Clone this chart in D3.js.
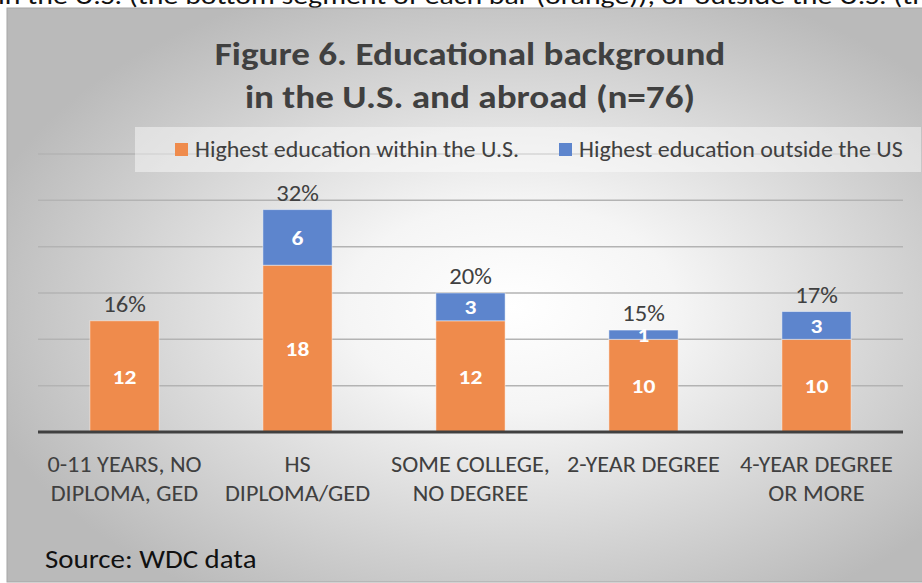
<!DOCTYPE html>
<html>
<head>
<meta charset="utf-8">
<script src="https://cdn.jsdelivr.net/npm/d3@7"></script>
<style>
  html, body { margin: 0; padding: 0; background: #ffffff; overflow: hidden; }
  svg { display: block; }
  text { font-family: Carlito, Calibri, Lato, "Open Sans", sans-serif; }
</style>
</head>
<body>
<svg id="chart" width="922" height="583"></svg>
<script>
// Educational background of respondents, by where the highest education was obtained
const categories = [
  ["0-11 YEARS, NO", "DIPLOMA, GED"],
  ["HS", "DIPLOMA/GED"],
  ["SOME COLLEGE,", "NO DEGREE"],
  ["2-YEAR DEGREE"],
  ["4-YEAR DEGREE", "OR MORE"]
];
const withinUS = [12, 18, 12, 10, 10];
const outsideUS = [0, 6, 3, 1, 3];
const totalLabels = ["16%", "32%", "20%", "15%", "17%"];
const seriesNames = ["Highest education within the U.S.", "Highest education outside the US"];
const yTicks = [0, 5, 10, 15, 20, 25, 30];

const colors = ["#ef8b4c", "#5d85cd"];
const ink = "#404040";

const svg = d3.select("#chart");
const W = 922, H = 583;

// Widen text runs a little so the substitute face keeps the original's line lengths
function widen(sel, f) {
  sel.each(function () {
    const len = this.getComputedTextLength();
    d3.select(this).attr("textLength", len * f).attr("lengthAdjust", "spacingAndGlyphs");
  });
  return sel;
}

// Chart area background: soft radial gradient
const defs = svg.append("defs");
const grad = defs.append("radialGradient")
  .attr("id", "bg").attr("cx", "55%").attr("cy", "52%").attr("r", "60%");
grad.append("stop").attr("offset", "0%").attr("stop-color", "#ffffff");
grad.append("stop").attr("offset", "30%").attr("stop-color", "#f5f5f5");
grad.append("stop").attr("offset", "100%").attr("stop-color", "#bababa");

// Running text of the surrounding document, clipped by the top edge
svg.append("text")
  .attr("x", -2).attr("y", 4)
  .attr("font-size", 24).attr("fill", "#111")
  .attr("textLength", 930).attr("lengthAdjust", "spacingAndGlyphs")
  .text("in the U.S. (the bottom segment of each bar (orange)), or outside the U.S. (th");

svg.append("rect")
  .attr("x", 7).attr("y", 8).attr("width", W - 7 + 2).attr("height", 574)
  .attr("fill", "url(#bg)")
  .attr("stroke", "#a6a6a6").attr("stroke-width", 1);

// Title
const title = svg.append("text")
  .attr("text-anchor", "middle").attr("font-weight", "bold")
  .attr("font-size", 32).attr("fill", ink);
title.append("tspan").attr("x", 470).attr("y", 65).text("Figure 6. Educational background");
title.append("tspan").attr("x", 470).attr("y", 108).text("in the U.S. and abroad (n=76)");
widen(title.selectAll("tspan"), 1.16);

// Scales
const x = d3.scaleBand()
  .domain(d3.range(categories.length))
  .range([38, 903])
  .paddingInner(0.6).paddingOuter(0.3);
const y = d3.scaleLinear().domain([0, 30]).range([432, 154]);

// Gridlines
svg.append("g")
  .selectAll("line")
  .data(yTicks.filter(t => t > 0))
  .join("line")
  .attr("x1", 38).attr("x2", 903)
  .attr("y1", d => y(d)).attr("y2", d => y(d))
  .attr("stroke", "#b3b3b3").attr("stroke-width", 1.5);

// Legend
const legend = svg.append("g");
legend.append("rect")
  .attr("x", 135).attr("y", 127).attr("width", 786).attr("height", 45)
  .attr("fill", "#ffffff").attr("fill-opacity", 0.45);
const legendX = [175, 559];
seriesNames.forEach((name, i) => {
  legend.append("rect")
    .attr("x", legendX[i]).attr("y", 143).attr("width", 13).attr("height", 13)
    .attr("fill", colors[i]);
  widen(legend.append("text")
    .attr("x", legendX[i] + 20).attr("y", 157)
    .attr("font-size", 22).attr("fill", ink)
    .text(name), 1.09);
});

// Stacked bars
const stacked = d3.stack().keys([0, 1])(
  withinUS.map((v, i) => ({ 0: v, 1: outsideUS[i] }))
);

const bars = svg.append("g");
stacked.forEach((layer, li) => {
  bars.append("g")
    .selectAll("rect")
    .data(layer.map((d, i) => ({ i, y0: d[0], y1: d[1] })).filter(d => d.y1 > d.y0))
    .join("rect")
    .attr("x", d => x(d.i))
    .attr("y", d => y(d.y1))
    .attr("width", x.bandwidth())
    .attr("height", d => y(d.y0) - y(d.y1))
    .attr("fill", colors[li])
    .attr("stroke", "#ffffff").attr("stroke-opacity", 0.45).attr("stroke-width", 1);
});

// Segment value labels
stacked.forEach((layer, li) => {
  widen(bars.append("g")
    .selectAll("text")
    .data(layer.map((d, i) => ({ i, y0: d[0], y1: d[1], v: d[1] - d[0] })).filter(d => d.v > 0))
    .join("text")
    .attr("x", d => x(d.i) + x.bandwidth() / 2)
    .attr("y", d => (y(d.y0) + y(d.y1)) / 2 + 7.5)
    .attr("text-anchor", "middle")
    .attr("font-size", 21).attr("font-weight", "bold")
    .attr("fill", "#ffffff")
    .text(d => d.v), 1.12);
});

// Total percentage labels
widen(svg.append("g")
  .selectAll("text")
  .data(totalLabels)
  .join("text")
  .attr("x", (d, i) => x(i) + x.bandwidth() / 2)
  .attr("y", (d, i) => y(withinUS[i] + outsideUS[i]) - 9)
  .attr("text-anchor", "middle")
  .attr("font-size", 22).attr("fill", ink)
  .text(d => d), 1.12);

// Category axis
svg.append("line")
  .attr("x1", 38).attr("x2", 903)
  .attr("y1", y(0)).attr("y2", y(0))
  .attr("stroke", ink).attr("stroke-width", 3);

const catG = svg.append("g");
categories.forEach((lines, i) => {
  const t = catG.append("text")
    .attr("text-anchor", "middle")
    .attr("font-size", 22).attr("fill", ink);
  lines.forEach((line, k) => {
    t.append("tspan")
      .attr("x", x(i) + x.bandwidth() / 2)
      .attr("y", 472 + k * 29)
      .text(line);
  });
  widen(t.selectAll("tspan"), 1.1);
});

// Source note
widen(svg.append("text")
  .attr("x", 45).attr("y", 568)
  .attr("font-size", 27).attr("fill", "#111")
  .text("Source: WDC data"), 1.07);
</script>
</body>
</html>
